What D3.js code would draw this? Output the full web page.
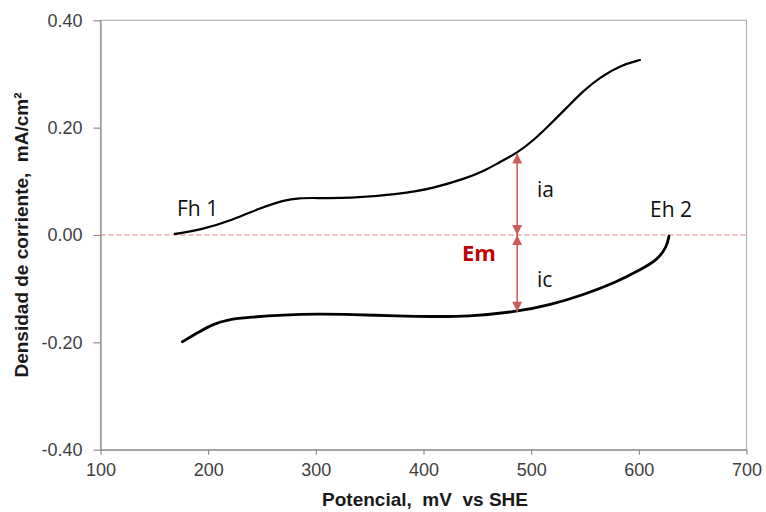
<!DOCTYPE html>
<html>
<head>
<meta charset="utf-8">
<script src="https://cdn.jsdelivr.net/npm/d3@7"></script>
<style>
  html, body { margin: 0; padding: 0; background: #fff; }
  svg { display: block; }
</style>
</head>
<body>
<svg id="chart" width="766" height="512"></svg>
<script>
// Potential scan (mV vs SHE) and current density (mA/cm2)
const anodicPotential = [169, 192, 223, 248, 270, 285, 300, 330, 378, 409, 440, 456, 471, 487, 502, 517, 533, 548, 564, 583, 601];
const anodicCurrent   = [0.002, 0.009, 0.028, 0.050, 0.065, 0.069, 0.069, 0.068, 0.076, 0.087, 0.106, 0.119, 0.136, 0.153, 0.176, 0.205, 0.237, 0.268, 0.294, 0.316, 0.326];

const cathodicPotential = [176, 192, 205, 217, 239, 270, 301, 332, 378, 409, 440, 487, 518, 548, 580, 601, 617, 626, 628];
const cathodicCurrent   = [-0.199, -0.180, -0.166, -0.158, -0.153, -0.149, -0.147, -0.148, -0.151, -0.152, -0.152, -0.143, -0.130, -0.112, -0.087, -0.065, -0.047, -0.022, -0.002];

const xTicks = [100, 200, 300, 400, 500, 600, 700];
const yTicks = [-0.40, -0.20, 0.00, 0.20, 0.40];

// Mixed potential marker and the two current arrows
const emPotential = 487;
const iaValue = 0.152;
const icValue = -0.143;

const svg = d3.select("#chart");

const x = d3.scaleLinear().domain([100, 700]).range([100.5, 746.5]);
const y = d3.scaleLinear().domain([-0.40, 0.40]).range([449.7, 20.3]);

const axisColor = "#8c8c8c";
const labelColor = "#404040";
const tickFont = "'Liberation Sans', Arial, sans-serif";

// Plot frame
svg.append("rect")
  .attr("x", x(100)).attr("y", y(0.40))
  .attr("width", x(700) - x(100)).attr("height", y(-0.40) - y(0.40))
  .attr("fill", "none").attr("stroke", "#b4b4b4").attr("stroke-width", 1.2);

// Axes
const fmtY = d => d3.format(".2f")(d).replace("−", "-");
const gx = svg.append("g")
  .attr("transform", `translate(0,${y(-0.40)})`)
  .call(d3.axisBottom(x).tickValues(xTicks).tickFormat(d3.format("d")).tickSize(5).tickSizeOuter(0).tickPadding(9));
const gy = svg.append("g")
  .attr("transform", `translate(${x(100)},0)`)
  .call(d3.axisLeft(y).tickValues(yTicks).tickFormat(fmtY).tickSize(7).tickSizeOuter(0).tickPadding(11));

[gx, gy].forEach(g => {
  g.select(".domain").attr("stroke", axisColor).attr("stroke-width", 1.2);
  g.selectAll(".tick line").attr("stroke", axisColor).attr("stroke-width", 1.2);
  g.selectAll(".tick text")
    .attr("fill", labelColor)
    .style("font-family", tickFont)
    .style("font-size", "18px");
});

// Zero-current reference line
svg.append("line")
  .attr("x1", x(100)).attr("x2", x(700))
  .attr("y1", y(0)).attr("y2", y(0))
  .attr("stroke", "#d98080").attr("stroke-width", 1.1)
  .attr("stroke-dasharray", "5,3");

// Axis titles
svg.append("text")
  .attr("x", 425).attr("y", 506)
  .attr("text-anchor", "middle")
  .style("font-family", tickFont).style("font-size", "19px").style("font-weight", "bold")
  .attr("fill", "#1a1a1a")
  .attr("xml:space", "preserve")
  .text("Potencial,  mV  vs SHE");

svg.append("text")
  .attr("transform", "translate(28,235) rotate(-90)")
  .attr("text-anchor", "middle")
  .style("font-family", tickFont).style("font-size", "19px").style("font-weight", "bold")
  .attr("fill", "#1a1a1a")
  .attr("xml:space", "preserve")
  .text("Densidad de corriente,  mA/cm²");

// Polarization curves
const line = d3.line()
  .x(d => x(d[0]))
  .y(d => y(d[1]))
  .curve(d3.curveBasis);

svg.append("path")
  .datum(d3.zip(anodicPotential, anodicCurrent))
  .attr("d", line)
  .attr("fill", "none").attr("stroke", "#000").attr("stroke-width", 2.2)
  .attr("stroke-linecap", "round");

svg.append("path")
  .datum(d3.zip(cathodicPotential, cathodicCurrent))
  .attr("d", line)
  .attr("fill", "none").attr("stroke", "#000").attr("stroke-width", 2.8)
  .attr("stroke-linecap", "round");

// Arrowheads
const arrowColor = "#cc5c5c";
const defs = svg.append("defs");
defs.append("marker")
  .attr("id", "head")
  .attr("viewBox", "0 0 10 10")
  .attr("refX", 10).attr("refY", 5)
  .attr("markerWidth", 11).attr("markerHeight", 10)
  .attr("markerUnits", "userSpaceOnUse")
  .attr("orient", "auto-start-reverse")
  .append("path")
  .attr("d", "M0,0 L10,5 L0,10 Z")
  .attr("fill", arrowColor);

[[iaValue, 0], [0, icValue]].forEach(([a, b]) => {
  svg.append("line")
    .attr("x1", x(emPotential)).attr("x2", x(emPotential))
    .attr("y1", y(a)).attr("y2", y(b))
    .attr("stroke", arrowColor).attr("stroke-width", 1.6)
    .attr("marker-start", "url(#head)")
    .attr("marker-end", "url(#head)");
});

// Annotations
const noteFont = "'Open Sans', 'Noto Sans', sans-serif";
const notes = [
  { t: "Fh 1", px: 177, py: 216 },
  { t: "Eh 2", px: 650, py: 217 },
  { t: "ia",   px: 537, py: 197 },
  { t: "ic",   px: 537, py: 287 }
];
svg.selectAll("text.note")
  .data(notes)
  .join("text")
  .attr("class", "note")
  .attr("x", d => d.px).attr("y", d => d.py)
  .style("font-family", noteFont).style("font-size", "21px")
  .attr("fill", "#111")
  .text(d => d.t);

svg.append("text")
  .attr("x", 462).attr("y", 261)
  .style("font-family", noteFont).style("font-size", "22px").style("font-weight", "bold")
  .attr("fill", "#c00000")
  .text("Em");
</script>
</body>
</html>
